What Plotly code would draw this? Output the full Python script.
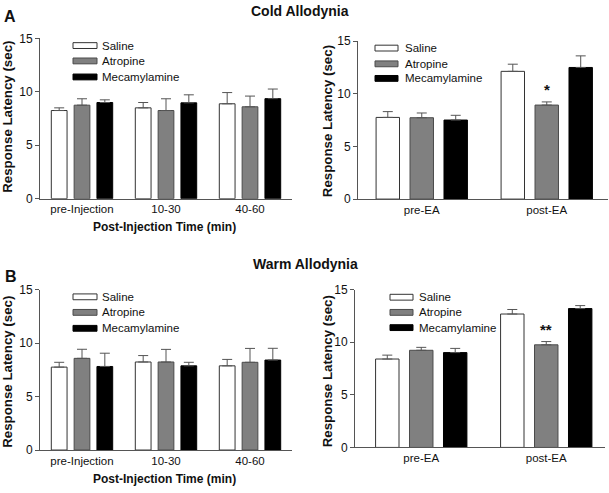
import plotly.graph_objects as go

W, H = 609, 493

series_names = ["Saline", "Atropine", "Mecamylamine"]
time_cats = ["pre-Injection", "10-30", "40-60"]
ea_cats = ["pre-EA", "post-EA"]

# Panel A left (cold, post-injection)
cold_inj_saline = [8.25, 8.5, 8.88]
cold_inj_saline_err = [0.25, 0.5, 1.05]
cold_inj_atropine = [8.75, 8.25, 8.6]
cold_inj_atropine_err = [0.6, 1.1, 1.0]
cold_inj_mec = [9.0, 8.97, 9.36]
cold_inj_mec_err = [0.25, 0.75, 0.9]

# Panel A right (cold, EA)
cold_ea_saline = [7.75, 12.12]
cold_ea_saline_err = [0.55, 0.68]
cold_ea_atropine = [7.72, 8.92]
cold_ea_atropine_err = [0.45, 0.3]
cold_ea_mec = [7.5, 12.49]
cold_ea_mec_err = [0.45, 1.1]

# Panel B left (warm, post-injection)
warm_inj_saline = [7.76, 8.24, 7.88]
warm_inj_saline_err = [0.45, 0.6, 0.6]
warm_inj_atropine = [8.58, 8.24, 8.21]
warm_inj_atropine_err = [0.85, 1.18, 1.3]
warm_inj_mec = [7.82, 7.88, 8.42]
warm_inj_mec_err = [1.24, 0.33, 1.1]

# Panel B right (warm, EA)
warm_ea_saline = [8.41, 12.69]
warm_ea_saline_err = [0.37, 0.43]
warm_ea_atropine = [9.24, 9.76]
warm_ea_atropine_err = [0.28, 0.31]
warm_ea_mec = [9.02, 13.21]
warm_ea_mec_err = [0.4, 0.28]

fills = ["#ffffff", "#808080", "#000000"]
lines = ["#333333", "#4a4a4a", "#000000"]
FONT = "Liberation Sans, Arial, sans-serif"


def px(x):
    return x / W


def py(y):
    return 1 - y / H


fig = go.Figure()

panels = [
    ("x", "y", time_cats,
     [(cold_inj_saline, cold_inj_saline_err), (cold_inj_atropine, cold_inj_atropine_err), (cold_inj_mec, cold_inj_mec_err)],
     (40, 292), (32.3, 197.3), [-0.5, 2.5]),
    ("x2", "y2", ea_cats,
     [(cold_ea_saline, cold_ea_saline_err), (cold_ea_atropine, cold_ea_atropine_err), (cold_ea_mec, cold_ea_mec_err)],
     (358, 608), (35, 197.7), [-0.51, 1.49]),
    ("x3", "y3", time_cats,
     [(warm_inj_saline, warm_inj_saline_err), (warm_inj_atropine, warm_inj_atropine_err), (warm_inj_mec, warm_inj_mec_err)],
     (40, 292), (291, 456), [-0.5, 2.5]),
    ("x4", "y4", ea_cats,
     [(warm_ea_saline, warm_ea_saline_err), (warm_ea_atropine, warm_ea_atropine_err), (warm_ea_mec, warm_ea_mec_err)],
     (355, 605), (291, 453.3), [-0.53, 1.47]),
]

layout_axes = {}
for i, (xa, ya, cats, data, xd, yd, xr) in enumerate(panels):
    for j, (vals, errs) in enumerate(data):
        fig.add_trace(go.Bar(
            x=cats, y=vals, name=series_names[j], xaxis=xa, yaxis=ya,
            marker=dict(color=fills[j], line=dict(color=lines[j], width=1)),
            error_y=dict(type="data", symmetric=False, array=errs,
                         arrayminus=[0] * len(errs), color="#555555",
                         thickness=1, width=5),
            showlegend=False, offsetgroup=str(j), hoverinfo="skip",
        ))
    xkey = "xaxis" if xa == "x" else "xaxis" + xa[1:]
    ykey = "yaxis" if ya == "y" else "yaxis" + ya[1:]
    layout_axes[xkey] = dict(
        domain=[px(xd[0]), px(xd[1])], anchor=ya, type="category",
        range=xr, showline=True, linecolor="#555555", linewidth=1,
        ticks="", showgrid=False, zeroline=False,
        tickfont=dict(family=FONT, size=11.5, color="#111111"),
    )
    layout_axes[ykey] = dict(
        domain=[py(yd[1]), py(yd[0])], anchor=xa, range=[0, 15],
        tickvals=[0, 5, 10, 15], showline=True, linecolor="#555555",
        linewidth=1, ticks="outside", ticklen=4, tickcolor="#555555",
        showgrid=False, zeroline=False,
        tickfont=dict(family=FONT, size=12, color="#111111"),
    )

fig.update_layout(**layout_axes)

shapes = []
annotations = []

# Manual legends
legend_specs = [
    ((73, 97), [39.7, 55.5, 72.0], 100),
    ((375, 398), [42.3, 58.5, 73.5], 403),
    ((73, 97), [298.3, 314.3, 330.7], 100),
    ((390, 413), [298.7, 314.3, 330.0], 417),
]
for (x0, x1), rows, tx in legend_specs:
    for j, yc in enumerate(rows):
        shapes.append(dict(type="rect", xref="paper", yref="paper",
                           x0=px(x0), x1=px(x1), y0=py(yc + 3), y1=py(yc - 3),
                           fillcolor=fills[j], line=dict(color=lines[j], width=1)))
        annotations.append(dict(text=series_names[j], xref="paper", yref="paper",
                                x=px(tx), y=py(yc), xanchor="left", yanchor="middle",
                                showarrow=False,
                                font=dict(family=FONT, size=11.5, color="#111111")))

# Axis titles
ytitle = "Response Latency (sec)"
for (xc, yc) in [(7.5, 113.5), (327.5, 118), (7.5, 376), (327, 375)]:
    annotations.append(dict(text="<b>%s</b>" % ytitle, xref="paper", yref="paper",
                            x=px(xc), y=py(yc), xanchor="center", yanchor="middle",
                            textangle=-90, showarrow=False,
                            font=dict(family=FONT, size=13.3, color="#111111")))
for (xc, yc) in [(164, 226), (164, 486)]:
    annotations.append(dict(text="<b>Post-Injection Time (min)</b>", xref="paper", yref="paper",
                            x=px(xc), y=py(yc), xanchor="center", yanchor="middle",
                            showarrow=False,
                            font=dict(family=FONT, size=12, color="#111111")))

# Panel titles and letters
annotations.append(dict(text="<b>Cold Allodynia</b>", xref="paper", yref="paper",
                        x=px(300), y=py(4), xanchor="center", yanchor="middle",
                        showarrow=False, font=dict(family=FONT, size=14, color="#111111")))
annotations.append(dict(text="<b>Warm Allodynia</b>", xref="paper", yref="paper",
                        x=px(305), y=py(265), xanchor="center", yanchor="middle",
                        showarrow=False, font=dict(family=FONT, size=14, color="#111111")))
annotations.append(dict(text="<b>A</b>", xref="paper", yref="paper",
                        x=px(10), y=py(10), xanchor="center", yanchor="middle",
                        showarrow=False, font=dict(family=FONT, size=16, color="#111111")))
annotations.append(dict(text="<b>B</b>", xref="paper", yref="paper",
                        x=px(11), y=py(277), xanchor="center", yanchor="middle",
                        showarrow=False, font=dict(family=FONT, size=16, color="#111111")))

# Significance marks
annotations.append(dict(text="<b>*</b>", xref="x2", yref="y2", x="post-EA", y=10.4,
                        xanchor="center", yanchor="middle", showarrow=False,
                        font=dict(family=FONT, size=15, color="#111111")))
annotations.append(dict(text="<b>**</b>", xref="x4", yref="y4", x="post-EA", y=11.2,
                        xanchor="center", yanchor="middle", showarrow=False,
                        font=dict(family=FONT, size=15, color="#111111")))

fig.update_layout(
    width=W, height=H, margin=dict(l=0, r=0, t=0, b=0),
    paper_bgcolor="white", plot_bgcolor="white",
    barmode="group", bargap=0.185, bargroupgap=0.31,
    shapes=shapes, annotations=annotations, showlegend=False,
)

fig.write_html(
    "out.html",
    config={"displayModeBar": False},
    post_script="document.body.style.margin='0px';document.body.style.overflow='hidden';",
)
